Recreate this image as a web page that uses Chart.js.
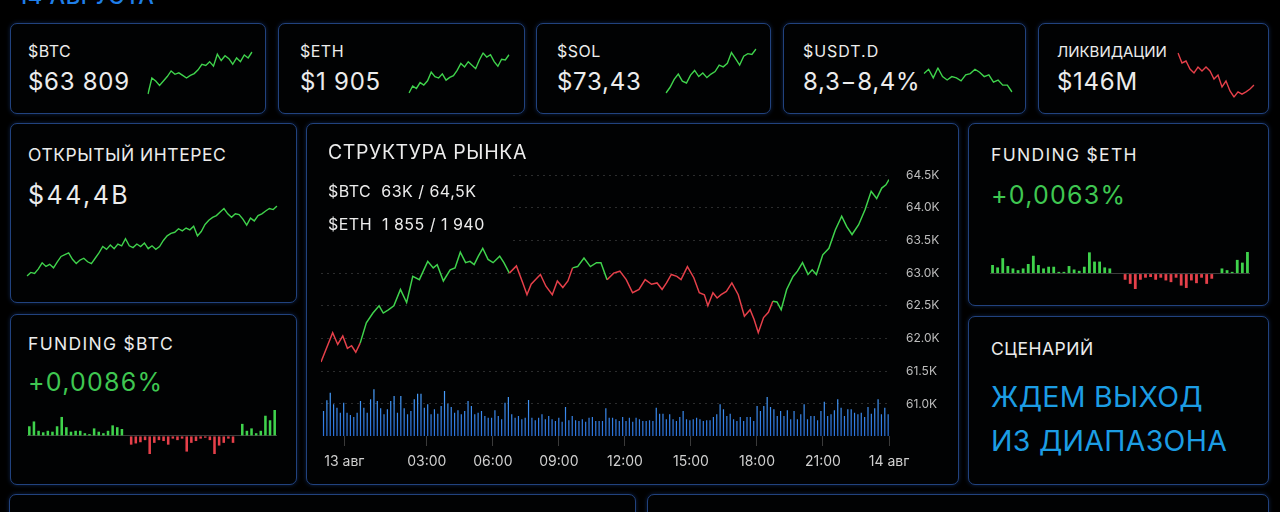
<!DOCTYPE html>
<html lang="ru">
<head>
<meta charset="utf-8">
<script src="https://cdn.jsdelivr.net/npm/chart.js@4.4.1/dist/chart.umd.min.js"></script>
<style>
  html, body { margin: 0; background: #000; width: 1280px; height: 512px; overflow: hidden; }
  body { position: relative; font-family: Inter, Roboto, sans-serif; color: #ececec; }
  .panel { position: absolute; box-sizing: border-box; border: 1.5px solid #21427e; border-radius: 7px;
           background: #010203; box-shadow: 0 0 4px rgba(40, 95, 200, 0.35); }
  .t { position: absolute; white-space: nowrap; line-height: 1; letter-spacing: 0.03em; }
  .title { font-size: 17.5px; }
  .latin { letter-spacing: 0.075em; }
  .small { font-size: 16px; }
  .val { font-size: 24px; }
  .big { font-size: 25px; letter-spacing: 0.05em; }
  .green { color: #3fc751; }
  .scen { font-size: 28.5px; color: #1c9de4; letter-spacing: 0.01em; }
  canvas { position: absolute; }
</style>
</head>
<body>

<div class="t" style="left:18px; top:-15px; font-size:22px; font-weight:500; color:#1f7fe8;">14 АВГУСТА</div>

<div class="panel" style="left:10px; top:23px; width:256px; height:91px;"></div>
<div class="panel" style="left:278px; top:23px; width:247px; height:91px;"></div>
<div class="panel" style="left:536px; top:23px; width:235px; height:91px;"></div>
<div class="panel" style="left:783px; top:23px; width:243px; height:91px;"></div>
<div class="panel" style="left:1038px; top:23px; width:231px; height:91px;"></div>

<div class="panel" style="left:10px; top:123px; width:287px; height:180px;"></div>
<div class="panel" style="left:10px; top:314px; width:287px; height:171px;"></div>
<div class="panel" style="left:306px; top:123px; width:653px; height:362px;"></div>
<div class="panel" style="left:968px; top:123px; width:301px; height:183px;"></div>
<div class="panel" style="left:968px; top:316px; width:301px; height:169px;"></div>
<div class="panel" style="left:9px; top:494px; width:627px; height:40px;"></div>
<div class="panel" style="left:647px; top:494px; width:622px; height:40px;"></div>

<!-- tiles -->
<div class="t small" style="left:28px; top:43px;">$BTC</div>
<div class="t val" style="left:28px; top:70px;">$63 809</div>
<div class="t small" style="left:300px; top:43px;">$ETH</div>
<div class="t val" style="left:300px; top:70px;">$1 905</div>
<div class="t small" style="left:557px; top:43px;">$SOL</div>
<div class="t val" style="left:557px; top:70px;">$73,43</div>
<div class="t small" style="left:803px; top:43px; letter-spacing:0.06em;">$USDT.D</div>
<div class="t val" style="left:803px; top:70px;">8,3−8,4%</div>
<div class="t" style="left:1057px; top:44px; font-size:15px; letter-spacing:0;">ЛИКВИДАЦИИ</div>
<div class="t val" style="left:1057px; top:70px;">$146M</div>

<canvas id="sparkBtc" width="108" height="46" style="left:146px; top:50px;"></canvas>
<canvas id="sparkEth" width="104" height="44" style="left:407px; top:51px;"></canvas>
<canvas id="sparkSol" width="94" height="48" style="left:664px; top:47px;"></canvas>
<canvas id="sparkUsdt" width="92" height="28" style="left:922px; top:66px;"></canvas>
<canvas id="sparkLiq" width="80" height="48" style="left:1176px; top:51px;"></canvas>

<!-- open interest -->
<div class="t title" style="left:28px; top:146px;">ОТКРЫТЫЙ ИНТЕРЕС</div>
<div class="t big" style="left:28px; top:183px; letter-spacing:0.1em;">$44,4B</div>
<canvas id="sparkOi" width="254" height="74" style="left:25px; top:204px;"></canvas>

<!-- funding btc -->
<div class="t title latin" style="left:28px; top:335px;">FUNDING $BTC</div>
<div class="t big green" style="left:28px; top:370px;">+0,0086%</div>
<canvas id="fundBtc" width="250" height="44" style="left:27px; top:410px;"></canvas>

<!-- funding eth -->
<div class="t title latin" style="left:991px; top:146px;">FUNDING $ETH</div>
<div class="t big green" style="left:991px; top:183px;">+0,0063%</div>
<canvas id="fundEth" width="260" height="37" style="left:990px; top:252px;"></canvas>

<!-- scenario -->
<div class="t title" style="left:991px; top:340px;">СЦЕНАРИЙ</div>
<div class="t scen" style="left:991px; top:383px;">ЖДЕМ ВЫХОД</div>
<div class="t scen" style="left:991px; top:427px;">ИЗ ДИАПАЗОНА</div>

<!-- market structure -->
<canvas id="market" width="645" height="321" style="left:306px; top:155px;"></canvas>
<div style="position:absolute; left:318px; top:165px; width:195px; height:80px; background:#010203;"></div>
<div class="t" style="left:328px; top:143px; font-size:19.5px;">СТРУКТУРА РЫНКА</div>
<div class="t small" style="left:328px; top:183px;">$BTC&nbsp;&nbsp;63K / 64,5K</div>
<div class="t small" style="left:328px; top:216px;">$ETH&nbsp;&nbsp;1 855 / 1 940</div>

<script>
// price structure, BTC (hours from 13 Aug 00:00, price in K)
const priceTimes = [-1.81, -1.28, -1.05, -0.82, -0.61, -0.42, -0.23, -0.03, 0.25, 0.55,
  0.83, 1.02, 1.25, 1.50, 1.80, 2.08, 2.36, 2.66, 3.04, 3.29,
  3.47, 3.75, 4.06, 4.28, 4.52, 4.76, 4.96, 5.15, 5.34, 5.54,
  5.78, 6.01, 6.31, 6.50, 6.75, 7.07, 7.36, 7.55, 7.74, 7.93,
  8.16, 8.41, 8.70, 8.93, 9.18, 9.41, 9.62, 9.85, 10.14, 10.43,
  10.71, 10.91, 11.19, 11.49, 11.77, 12.06, 12.35, 12.64, 12.92, 13.21,
  13.46, 13.69, 13.89, 14.11, 14.36, 14.55, 14.84, 15.13, 15.38, 15.61,
  15.77, 16.00, 16.19, 16.37, 16.61, 16.86, 17.15, 17.43, 17.69, 17.87,
  18.06, 18.30, 18.52, 18.72, 18.91, 19.10, 19.35, 19.64, 19.84, 20.07,
  20.32, 20.51, 20.70, 20.99, 21.27, 21.56, 21.85, 22.08, 22.32, 22.62,
  22.91, 23.19, 23.44, 23.67, 23.86, 24.00];
const prices = [61.64, 62.09, 61.91, 62.04, 61.85, 61.89, 61.79, 61.93, 62.24, 62.39,
  62.50, 62.39, 62.44, 62.50, 62.75, 62.55, 62.95, 62.90, 63.18, 63.08,
  63.13, 62.88, 63.05, 63.08, 63.32, 63.16, 63.18, 63.13, 63.26, 63.38,
  63.21, 63.16, 63.26, 63.16, 63.00, 63.11, 62.85, 62.67, 62.83, 62.90,
  62.98, 62.80, 62.67, 62.88, 62.78, 62.88, 63.08, 63.10, 63.23, 63.10,
  63.16, 63.16, 62.90, 63.00, 63.03, 62.90, 62.70, 62.75, 62.90, 62.83,
  62.85, 62.75, 62.85, 62.98, 62.95, 62.90, 63.10, 62.93, 62.70, 62.67,
  62.50, 62.70, 62.62, 62.67, 62.72, 62.85, 62.67, 62.34, 62.44, 62.29,
  62.09, 62.32, 62.40, 62.57, 62.56, 62.44, 62.75, 62.95, 63.03, 63.16,
  62.98, 63.05, 62.98, 63.28, 63.38, 63.66, 63.87, 63.71, 63.59, 63.74,
  63.97, 64.25, 64.14, 64.30, 64.35, 64.43];
// hours where the line switches colour (starts red)
const trendSwitches = [-0.17, 6.64, 9.53, 11.0, 18.70];

const volume = [75, 107, 130, 95, 85, 70, 100, 70, 63, 57, 70, 105, 85, 70, 110, 140, 105, 83, 65, 80,
  105, 120, 70, 120, 83, 65, 75, 110, 127, 127, 85, 95, 65, 80, 67, 90, 135, 97, 87, 70,
  77, 65, 75, 105, 90, 65, 70, 75, 60, 55, 55, 77, 60, 50, 100, 117, 65, 55, 60, 50,
  55, 108, 55, 47, 55, 65, 50, 60, 50, 45, 55, 43, 87, 47, 60, 47, 45, 50, 43, 55,
  57, 45, 45, 45, 83, 55, 55, 50, 45, 57, 45, 55, 43, 55, 50, 45, 45, 47, 45, 85,
  67, 67, 50, 65, 50, 45, 57, 75, 50, 47, 50, 55, 50, 45, 47, 47, 57, 65, 95, 80,
  60, 67, 50, 45, 57, 45, 57, 57, 45, 90, 75, 90, 117, 87, 80, 60, 75, 60, 77, 50,
  75, 50, 65, 95, 50, 60, 60, 47, 75, 103, 60, 65, 77, 110, 85, 60, 80, 80, 70, 65,
  70, 57, 87, 67, 83, 110, 65, 85, 65];

const tickHours = [-0.75, 3, 6, 9, 12, 15, 18, 21, 24];
const timeLabels = ['13 авг', '03:00', '06:00', '09:00', '12:00', '15:00', '18:00', '21:00', '14 авг'];
const priceTicks = [61.0, 61.5, 62.0, 62.5, 63.0, 63.5, 64.0, 64.5];

// tiles
const btcSpark = [25, 68, 60, 48, 60, 72, 87, 78, 82, 75, 68, 75, 80, 90, 105, 102, 112, 100, 132, 115, 128, 120, 105, 122, 112, 130, 122, 138];
const ethSpark = [25, 45, 38, 55, 48, 60, 85, 72, 68, 80, 62, 70, 75, 90, 110, 100, 115, 105, 95, 120, 140, 128, 135, 115, 102, 122, 120, 135];
const solSpark = [22, 38, 60, 75, 55, 50, 72, 85, 68, 78, 65, 75, 82, 100, 95, 105, 135, 118, 100, 125, 132, 130, 145];
const usdtSpark = [75, 85, 65, 88, 68, 60, 68, 65, 58, 72, 75, 85, 78, 68, 72, 55, 60, 48, 48, 32];
const liqSpark = [135, 110, 115, 95, 85, 100, 90, 100, 90, 70, 80, 50, 65, 40, 25, 38, 32, 38, 45, 55];
const oiSpark = [25, 35, 32, 45, 62, 52, 58, 48, 65, 80, 85, 90, 72, 60, 70, 75, 65, 60, 75, 90,
  108, 100, 112, 102, 115, 110, 130, 110, 105, 115, 108, 118, 102, 110, 100, 108, 125, 138, 145, 148,
  158, 152, 160, 155, 165, 138, 150, 170, 182, 190, 195, 205, 215, 200, 190, 200, 198, 185, 168, 188,
  180, 195, 200, 208, 215, 212, 222];

// funding rates, %
const fundingBtc = [0.0032, 0.0048, 0.0017, 0.0012, 0.0017, 0.0014, 0.0032, 0.0063, 0.0029, 0.0014,
  0.0017, 0.0017, 0.0009, 0.0006, 0.0025, 0.0014, 0.0009, 0.0017, 0.0035, 0.0029, 0.0023, 0,
  -0.0029, -0.0025, -0.0021, -0.0014, -0.0060, -0.0023, -0.0014, -0.0017, -0.0029, -0.0009,
  -0.0014, -0.0009, -0.0052, -0.0023, -0.0017, -0.0009, -0.0006, -0.0014, -0.0060, -0.0032,
  -0.0023, -0.0009, -0.0023, 0,
  0.0040, 0.0017, 0.0025, 0.0009, 0.0017, 0.0067, 0.0052, 0.0086];
const fundingEth = [0.0025, 0.0018, 0.0045, 0.0022, 0.0015, 0.0010, 0.0015, 0.0028, 0.0052, 0.0025,
  0.0015, 0.0020, 0.0020, 0.0005, 0.0005, 0.0022, 0.0012, 0.0008, 0.0020, 0.0062, 0.0035, 0.0035,
  0.0018, 0.0015, 0, 0,
  -0.0018, -0.0030, -0.0045, -0.0018, -0.0012, -0.0010, -0.0018, -0.0012, -0.0020, -0.0025,
  -0.0012, -0.0035, -0.0042, -0.0020, -0.0028, -0.0012, -0.0030, -0.0015, 0,
  0.0015, 0.0010, 0.0005, 0.0040, 0.0032, 0.0063];

const FONT = 'Inter, Roboto, sans-serif';
const GREEN = '#3fd24c';
const RED = '#e5404a';

const base = {
  animation: false,
  responsive: false,
  events: [],
  plugins: { legend: { display: false }, tooltip: { enabled: false } }
};

function spark(id, values, color) {
  new Chart(document.getElementById(id), {
    type: 'line',
    data: {
      labels: values.map((_, i) => i),
      datasets: [{ data: values, borderColor: color, borderWidth: 1.4, pointRadius: 0, tension: 0 }]
    },
    options: {
      ...base,
      layout: { padding: 2 },
      scales: { x: { display: false }, y: { display: false, bounds: 'data' } }
    }
  });
}

function fundingBars(id, values) {
  new Chart(document.getElementById(id), {
    type: 'bar',
    data: {
      labels: values.map((_, i) => i),
      datasets: [{
        data: values,
        backgroundColor: c => (c.raw >= 0 ? GREEN : RED),
        barPercentage: 0.55,
        categoryPercentage: 1
      }]
    },
    options: {
      ...base,
      scales: {
        x: { display: false },
        y: {
          bounds: 'data',
          ticks: { display: false },
          grid: { color: '#3c3c3c', drawTicks: false },
          border: { display: false },
          afterBuildTicks: s => { s.ticks = [{ value: 0 }]; }
        }
      }
    }
  });
}

spark('sparkBtc', btcSpark, GREEN);
spark('sparkEth', ethSpark, GREEN);
spark('sparkSol', solSpark, GREEN);
spark('sparkUsdt', usdtSpark, GREEN);
spark('sparkLiq', liqSpark, RED);
spark('sparkOi', oiSpark, GREEN);
fundingBars('fundBtc', fundingBtc);
fundingBars('fundEth', fundingEth);

function trendColor(x) {
  const n = trendSwitches.filter(s => s <= x).length;
  return n % 2 === 0 ? RED : GREEN;
}

function volumeFill(c) {
  const { ctx, chartArea, scales } = c.chart;
  if (!chartArea) return '#2b7fe6';
  const top = scales.yv.getPixelForValue(140);
  const g = ctx.createLinearGradient(0, top, 0, chartArea.bottom);
  g.addColorStop(0, '#4aa2ff');
  g.addColorStop(1, '#2a6fd8');
  return g;
}

new Chart(document.getElementById('market'), {
  data: {
    labels: volume.map((_, i) => i),
    datasets: [
      {
        type: 'line',
        data: priceTimes.map((t, i) => ({ x: t, y: prices[i] })),
        xAxisID: 'x',
        yAxisID: 'y',
        borderColor: GREEN,
        borderWidth: 1.5,
        pointRadius: 0,
        tension: 0,
        order: 0,
        segment: { borderColor: c => trendColor(c.p0.parsed.x) }
      },
      {
        type: 'bar',
        data: volume,
        xAxisID: 'xv',
        yAxisID: 'yv',
        backgroundColor: volumeFill,
        barPercentage: 0.72,
        categoryPercentage: 1,
        order: 1
      }
    ]
  },
  options: {
    ...base,
    layout: { padding: { left: 15, top: 0 } },
    scales: {
      x: {
        type: 'linear',
        min: priceTimes[0],
        max: priceTimes[priceTimes.length - 1],
        afterBuildTicks: s => { s.ticks = tickHours.map(v => ({ value: v })); },
        ticks: {
          color: '#cfcfcf', font: { size: 14, family: FONT }, padding: 7,
          maxRotation: 0, autoSkip: false,
          callback: (v, i) => timeLabels[i]
        },
        grid: { drawOnChartArea: false, color: '#3a3a3a', tickLength: 10 },
        border: { display: false },
        afterFit: s => { s.height = 40; }
      },
      xv: { type: 'category', display: false, offset: true },
      y: {
        position: 'right',
        min: 60.51,
        max: 64.65,
        afterBuildTicks: s => { s.ticks = priceTicks.map(v => ({ value: v })); },
        ticks: {
          color: '#bdbdbd', font: { size: 12, family: FONT }, padding: 3,
          callback: v => v.toFixed(1) + 'K'
        },
        grid: { color: 'rgba(255,255,255,0.17)', drawTicks: true, tickLength: 14, tickColor: 'transparent', borderDash: [2, 4] },
        border: { display: false, dash: [2, 4] },
        afterFit: s => { s.width = 62; }
      },
      yv: { display: false, min: 0, max: 813 }
    }
  }
});
</script>
</body>
</html>
